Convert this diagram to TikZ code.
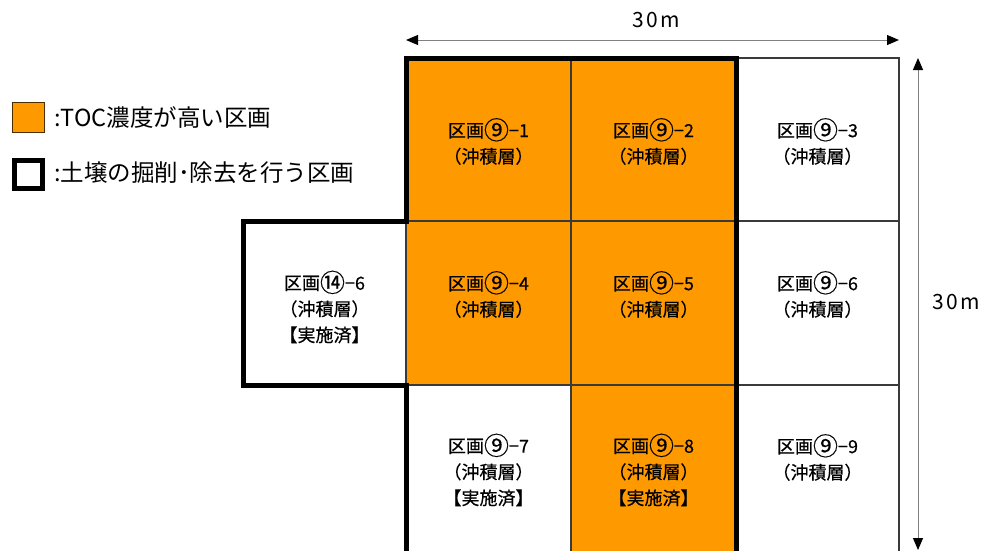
\documentclass[tikz,border=0pt]{standalone}
\usepackage{fontspec}
\setmainfont{Noto Sans CJK JP}
\newfontfamily\boldishfont[FakeBold=0.5]{Noto Sans CJK JP}
\newfontfamily\spacedfont[LetterSpace=12]{Noto Sans CJK JP}
\usetikzlibrary{arrows.meta}
\definecolor{tocorange}{HTML}{FF9900}
\definecolor{gridline}{HTML}{3A3A3A}
\definecolor{arrowgray}{HTML}{808080}
\newcommand\cnum[1]{\raisebox{-2.2pt}{\fontsize{25}{25}\selectfont #1}}
\tikzset{
  cellline/.style={draw=gridline, line width=1.3pt},
  thickline/.style={draw=black, line width=5pt, line join=miter},
  celltext/.style={align=center, font=\boldishfont\fontsize{18}{26}\selectfont, inner sep=0pt},
  legtext/.style={anchor=west, font=\fontsize{23.5}{26}\selectfont, inner sep=0pt},
  dimarrow/.style={draw=arrowgray, line width=1pt, {Triangle[length=12pt,width=10pt,color=black]}-{Triangle[length=12pt,width=10pt,color=black]}},
  dimtext/.style={font=\spacedfont\fontsize{21}{22}\selectfont, inner sep=0pt}
}
\begin{document}
\begin{tikzpicture}[x=1pt,y=-1pt]
\useasboundingbox (0,0) rectangle (984,550);
\fill[white] (0,0) rectangle (984,550);
% orange cells
\fill[tocorange] (406,58) rectangle (736,385);
\fill[tocorange] (571,385) rectangle (736,560);
% thin grid
\path[cellline] (243,221) rectangle (406,385);
\path[cellline] (406,58) rectangle (899,560);
\path[cellline] (571,58) -- (571,560);
\path[cellline] (736,58) -- (736,560);
\path[cellline] (406,221) -- (899,221);
\path[cellline] (406,385) -- (899,385);
% thick outline
\path[thickline] (406,560) -- (406,385) -- (243,385) -- (243,221) -- (406,221) -- (406,58) -- (736,58) -- (736,560);
% cell texts
\node[celltext] (t91) at (488.5,141.5) {区画\cnum{⑨}−1\\（沖積層）};
\node[celltext] (t92) at (653.5,141.5) {区画\cnum{⑨}−2\\（沖積層）};
\node[celltext] (t93) at (817.5,141.5) {区画\cnum{⑨}−3\\（沖積層）};
\node[celltext] (t146) at (324.5,307) {区画\cnum{⑭}−6\\（沖積層）\\【実施済】};
\node[celltext] (t94) at (488.5,294.5) {区画\cnum{⑨}−4\\（沖積層）};
\node[celltext] (t95) at (653.5,294.5) {区画\cnum{⑨}−5\\（沖積層）};
\node[celltext] (t96) at (817.5,294.5) {区画\cnum{⑨}−6\\（沖積層）};
\node[celltext] (t97) at (488.5,470) {区画\cnum{⑨}−7\\（沖積層）\\【実施済】};
\node[celltext] (t98) at (653.5,470) {区画\cnum{⑨}−8\\（沖積層）\\【実施済】};
\node[celltext] (t99) at (817.5,457.5) {区画\cnum{⑨}−9\\（沖積層）};
% dimension arrows
\coordinate (hl) at (406,40);
\coordinate (hr) at (899,40);
\coordinate (vt) at (918,58);
\coordinate (vb) at (918,550);
\path[dimarrow] (hl) -- (hr);
\path[dimarrow] (vt) -- (vb);
\node[dimtext] (w30) at (656,20) {30m};
\node[dimtext] (h30) at (956,302) {30m};
% legend
\path[fill=tocorange, draw=black!70!tocorange, line width=1pt] (12,102) rectangle (44,132);
\path[draw=black, line width=5pt] (14.5,160) rectangle (42.5,188);
\node[legtext] (l1) at (54,118) {:TOC濃度が高い区画};
\node[legtext] (l2) at (54,173) {:土壌の掘削･除去を行う区画};
\end{tikzpicture}
\end{document}
